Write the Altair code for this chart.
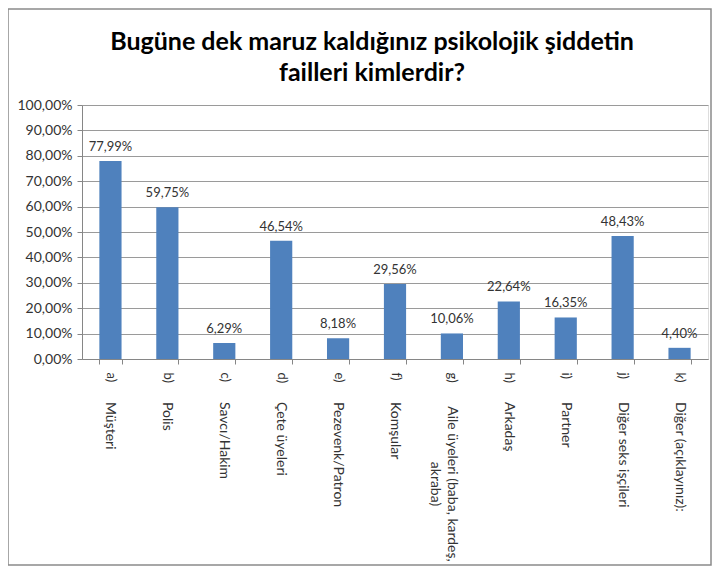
import altair as alt
import pandas as pd

title_lines = ["Bugüne dek maruz kaldığınız psikolojik şiddetin", "failleri kimlerdir?"]
letters = ["a)", "b)", "c)", "d)", "e)", "f)", "g)", "h)", "i)", "j)", "k)"]
names = ["Müşteri", "Polis", "Savcı/Hakim", "Çete üyeleri", "Pezevenk/Patron",
         "Komşular", "Aile üyeleri (baba, kardeş,\nakraba)", "Arkadaş", "Partner",
         "Diğer seks işçileri", "Diğer (açıklayınız):"]
values = [77.99, 59.75, 6.29, 46.54, 8.18, 29.56, 10.06, 22.64, 16.35, 48.43, 4.40]
y_ticks = [0, 10, 20, 30, 40, 50, 60, 70, 80, 90, 100]

df = pd.DataFrame({"letter": letters, "name": names, "value": values})

W, H = 626, 254
FONT = "Lato"
TXT = "#333333"

base = alt.Chart(df)

x_enc = alt.X("letter:N", sort=letters, title=None,
              scale=alt.Scale(paddingInner=0.61, paddingOuter=0.305),
              axis=alt.Axis(labelAngle=90, labelAlign="left", labelBaseline="middle",
                            labelPadding=8, labelFont=FONT, labelFontSize=13,
                            labelColor=TXT, tickBand="extent", tickSize=5,
                            tickColor="#868686", domainColor="#868686", grid=False,
                            labelOverlap=False))

y_enc = alt.Y("value:Q", title=None,
              scale=alt.Scale(domain=[0, 100], nice=False),
              axis=alt.Axis(values=y_ticks, tickCount=11,
                            labelExpr="replace(format(datum.value, '.2f'), '.', ',') + '%'",
                            labelFont=FONT, labelFontSize=14, labelColor=TXT,
                            labelPadding=5, tickSize=5, tickColor="#868686",
                            domainColor="#868686", gridColor="#9a9a9a",
                            labelOverlap=False))

bars = base.mark_bar(color="#4F81BD").encode(x=x_enc, y=y_enc)

labels = base.transform_calculate(
    lab="replace(format(datum.value, '.2f'), '.', ',') + '%'"
).mark_text(font=FONT, fontSize=13, color=TXT, baseline="bottom", dy=-7).encode(
    x=x_enc, y=y_enc, text="lab:N",
)

names_left = base.transform_filter("indexof(datum.name, '\\n') < 0").mark_text(
    font=FONT, fontSize=14, color=TXT, angle=90, align="left", baseline="middle"
).encode(
    x=x_enc, y=alt.value(H + 43), text="name:N",
)

names_wrap = base.transform_filter("indexof(datum.name, '\\n') >= 0").mark_text(
    font=FONT, fontSize=14, color=TXT, angle=90, align="center", baseline="middle",
    lineBreak="\n", lineHeight=17
).encode(
    x=x_enc, y=alt.value(H + 125), text="name:N",
)

frame = alt.Chart(pd.DataFrame({"f": [0]})).mark_rect(
    fillOpacity=0, stroke="#8a8a8a", strokeWidth=1.5
).encode(
    x=alt.value(-74), x2=alt.value(W + 3), y=alt.value(-96), y2=alt.value(H + 206)
)

title = alt.Chart(pd.DataFrame({"t": ["\n".join(title_lines)]})).mark_text(
    font=FONT, fontSize=25, fontWeight="bold", color="#000000",
    align="center", baseline="middle", lineBreak="\n", lineHeight=31
).encode(
    x=alt.value(290), y=alt.value(-63), text="t:N"
)

chart = alt.layer(frame, bars, labels, names_left, names_wrap, title).properties(
    width=W, height=H,
    autosize=alt.AutoSizeParams(type="none"),
    padding={"left": 74, "top": 97, "right": 4, "bottom": 208},
).configure_view(stroke=None).configure(background="white")

chart.save("out.html", embed_options={"renderer": "svg", "actions": False})
